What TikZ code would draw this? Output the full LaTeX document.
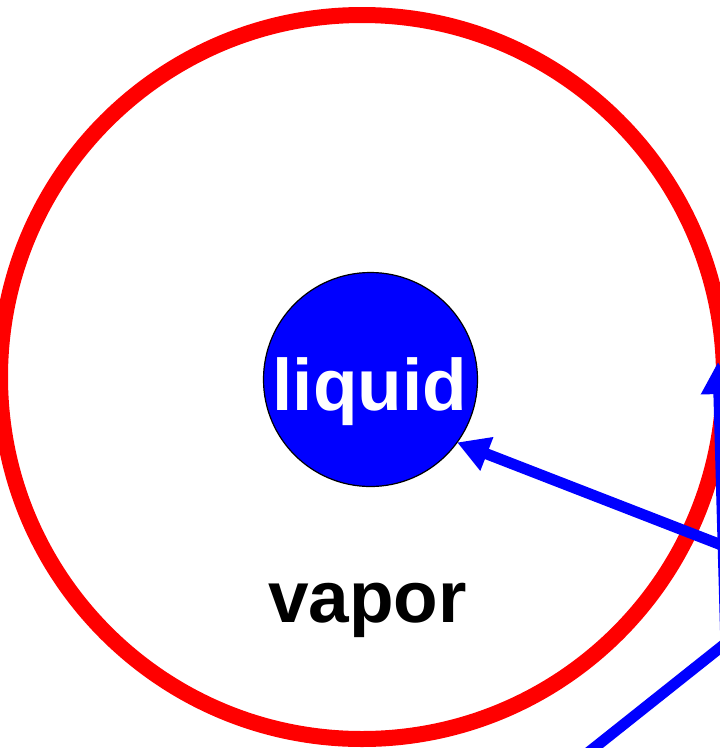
\documentclass[tikz,border=0pt]{standalone}
\usepackage{fontspec}
\setmainfont{Liberation Sans}
\usetikzlibrary{arrows.meta}
\begin{document}
\begin{tikzpicture}[x=1pt,y=-1pt,
  shell/.style={circle, draw=red, line width=16pt, minimum size=724pt, inner sep=0pt, outer sep=0pt},
  drop/.style={circle, draw=black, line width=1.2pt, fill=blue, minimum size=214pt, inner sep=0pt, outer sep=0pt},
  bigtext/.style={font=\fontsize{73}{80}\selectfont\bfseries, inner sep=0pt, anchor=base},
  flow/.style={draw=blue, line width=11pt},
  flowarrow/.style={flow, -{Triangle[length=32pt,width=34pt]}}]
\useasboundingbox (0,0) rectangle (720,748);
\clip (0,0) rectangle (720,748);
\node[shell] (vaporshell) at (362,377) {};
\node[drop] (liquid) at (370.5,379.5) {};
\node[bigtext, text=white] (liquidlabel) at (370,410) {liquid};
\node[bigtext, text=black] (vaporlabel) at (367.5,622) {vapor};
\coordinate (s1) at (760,560);
\coordinate (s2) at (728,720);
\coordinate (t2) at (718,362);
\coordinate (s3) at (560,775);
\coordinate (e3) at (760,616);
\draw[flowarrow] (s1) -- (liquid.-36.7);
\draw[flowarrow] (s2) -- (t2);
\draw[flow] (s3) -- (e3);
\end{tikzpicture}
\end{document}
